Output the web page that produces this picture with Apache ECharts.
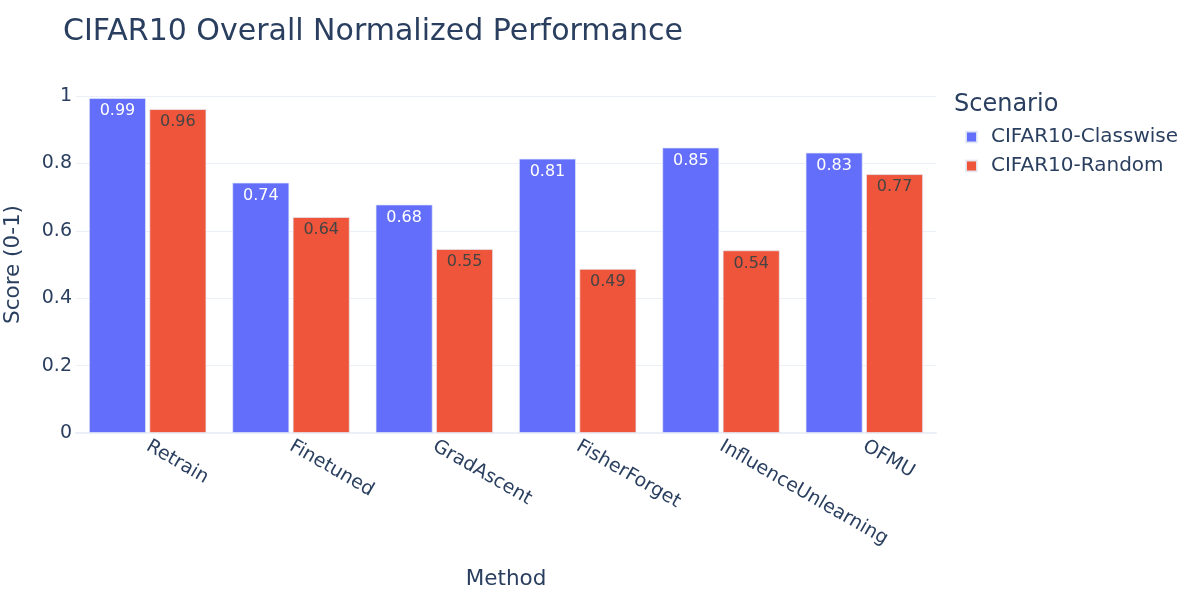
<!DOCTYPE html>
<html>
<head>
<meta charset="utf-8">
<script src="https://cdn.jsdelivr.net/npm/echarts@6/dist/echarts.min.js"></script>
<style>html,body{margin:0;padding:0;background:#fff}#c{width:1200px;height:600px}</style>
</head>
<body>
<div id="c"></div>
<script>
const methods = ['Retrain', 'Finetuned', 'GradAscent', 'FisherForget', 'InfluenceUnlearning', 'OFMU'];
const classwise = [0.994, 0.743, 0.678, 0.814, 0.847, 0.832];
const random = [0.961, 0.641, 0.546, 0.487, 0.542, 0.768];
const seriesNames = ['CIFAR10-Classwise', 'CIFAR10-Random'];
const yTicks = [0, 0.2, 0.4, 0.6, 0.8, 1];

const FONT = '"DejaVu Sans", Verdana, sans-serif';
const TXT = '#2a3f5f';
const chart = echarts.init(document.getElementById('c'), null, {renderer: 'canvas'});

function barSeries(name, data, color, labelColor) {
  return {
    name: name,
    type: 'bar',
    data: data,
    barWidth: 57,
    barGap: '6%',
    itemStyle: {color: color, borderColor: 'rgba(229,236,246,0.9)', borderWidth: 0.8},
    label: {
      show: true,
      position: 'insideTop',
      distance: 5,
      color: labelColor,
      fontFamily: FONT,
      fontSize: 16,
      formatter: p => p.value.toFixed(2)
    }
  };
}

chart.setOption({
  backgroundColor: '#fff',
  animation: false,
  textStyle: {fontFamily: FONT, color: TXT},
  title: [
    {text: 'CIFAR10 Overall Normalized Performance', left: 58, top: 12,
     textStyle: {fontFamily: FONT, fontSize: 30, fontWeight: 'normal', color: TXT}},
    {text: 'Scenario', left: 949, top: 88,
     textStyle: {fontFamily: FONT, fontSize: 24, fontWeight: 'normal', color: TXT}}
  ],
  legend: {
    orient: 'vertical',
    left: 960,
    top: 122,
    itemWidth: 11,
    itemHeight: 11,
    itemGap: 9,
    icon: 'rect',
    data: seriesNames,
    textStyle: {fontFamily: FONT, fontSize: 20, lineHeight: 20, color: TXT, padding: [0, 0, 0, 9]}
  },
  grid: {left: 76, right: 264, top: 96, bottom: 167, containLabel: false, outerBoundsMode: 'none'},
  xAxis: {
    type: 'category',
    data: methods,
    name: 'Method',
    nameLocation: 'middle',
    nameGap: 135,
    nameTextStyle: {fontFamily: FONT, fontSize: 21.5, color: TXT},
    axisLine: {show: true, lineStyle: {color: '#EBF0F8', width: 2}},
    axisTick: {show: false},
    axisLabel: {rotate: -30, margin: 12, fontFamily: FONT, fontSize: 19, color: TXT, interval: 0},
    splitLine: {show: false}
  },
  yAxis: {
    type: 'value',
    min: yTicks[0],
    max: yTicks[yTicks.length - 1],
    interval: 0.2,
    name: 'Score (0-1)',
    nameLocation: 'middle',
    nameGap: 52,
    nameTextStyle: {fontFamily: FONT, fontSize: 21.5, color: TXT},
    axisLine: {show: false},
    axisTick: {show: false},
    axisLabel: {margin: 4, fontFamily: FONT, fontSize: 19, color: TXT,
      formatter: v => String(Math.round(v * 10) / 10)},
    splitLine: {lineStyle: {color: '#EBF0F8', width: 1}}
  },
  series: [
    barSeries(seriesNames[0], classwise, '#636EFA', '#ffffff'),
    barSeries(seriesNames[1], random, '#EF553B', '#444444')
  ]
});
</script>
</body>
</html>
